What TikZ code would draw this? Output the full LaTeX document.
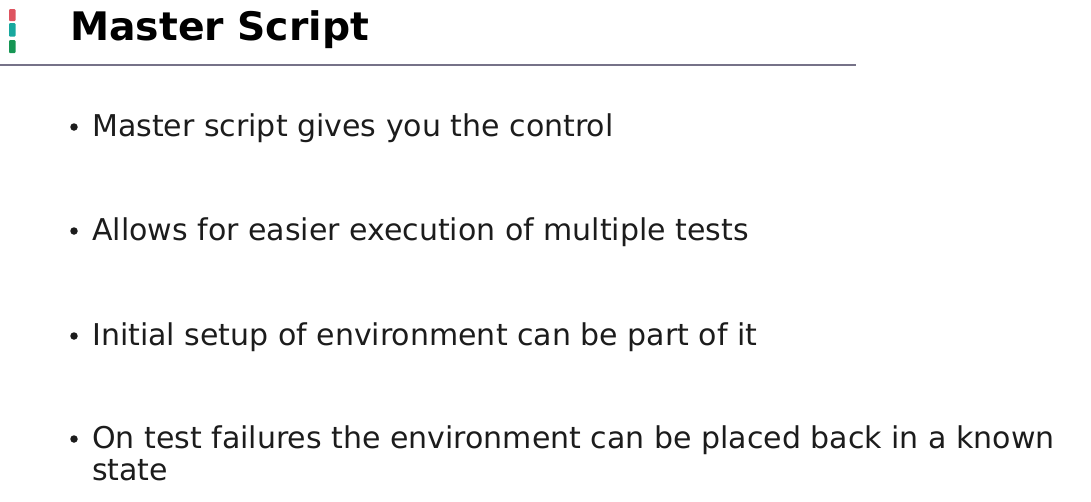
\documentclass[tikz,border=0pt]{standalone}
\usepackage{fontspec}
\setmainfont{DejaVu Sans}
\definecolor{logored}{RGB}{222,84,96}
\definecolor{logoteal}{RGB}{24,168,158}
\definecolor{logogreen}{RGB}{22,150,84}
\definecolor{rulegray}{RGB}{118,114,136}
\definecolor{bodytext}{RGB}{28,28,28}
\tikzset{
  titletext/.style={anchor=base west, inner sep=0pt, font=\fontsize{39.3}{44}\selectfont\bfseries, text=black},
  itemtext/.style={anchor=base west, inner sep=0pt, font=\fontsize{30}{34}\selectfont, text=bodytext},
  itembullet/.style={circle, fill=bodytext, inner sep=0pt, minimum size=7.5pt}
}
\begin{document}
\begin{tikzpicture}[x=1pt,y=-1pt]  %Slide, 1 unidade = 1 pixel
    \useasboundingbox (0,0) rectangle (1091,501);
        %Logo
    \fill[logored, rounded corners=1pt] (9,9) rectangle (15.5,21);
    \fill[logoteal, rounded corners=1pt] (9,23) rectangle (15.5,36.5);
    \fill[logogreen, rounded corners=1pt] (9,40) rectangle (15.5,53);
        %Titulo
    \node[titletext] (title) at (70,40) {Master Script};
    \draw[rulegray, line width=1.3pt] (0,65) -- (856,65); %Linha abaixo do titulo
        %Itens
    \node[itembullet] (b1) at (74,127) {};
    \node[itemtext] (item1) at (92,136) {Master script gives you the control};
    \node[itembullet] (b2) at (74,231) {};
    \node[itemtext] (item2) at (92,240) {Allows for easier execution of multiple tests};
    \node[itembullet] (b3) at (74,336) {};
    \node[itemtext] (item3) at (92,345) {Initial setup of environment can be part of it};
    \node[itembullet] (b4) at (74,439) {};
    \node[itemtext] (item4) at (92,448) {On test failures the environment can be placed back in a known};
    \node[itemtext] (item4b) at (92,480) {state};
\end{tikzpicture}
\end{document}
